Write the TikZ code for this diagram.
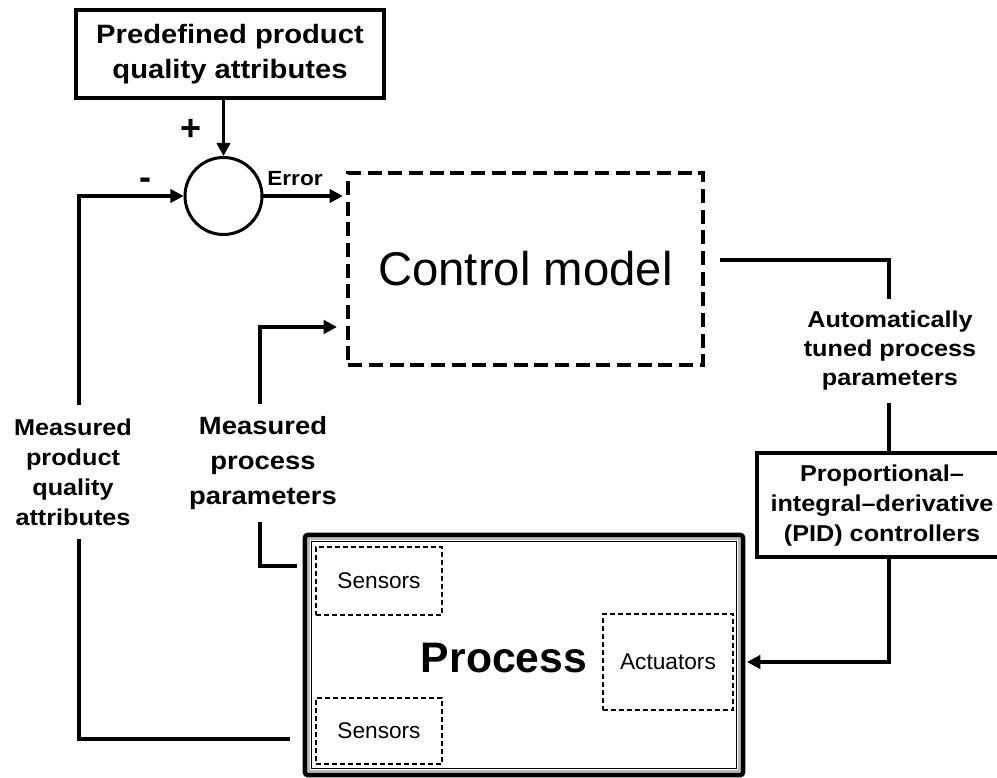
\documentclass[tikz,border=0pt]{standalone}
\usepackage{fontspec}
\setmainfont{Liberation Sans}
\newfontfamily\widefont[FakeStretch=1.1]{Liberation Sans}
\usetikzlibrary{arrows.meta}

\begin{document}
\begin{tikzpicture}[x=0.75pt,y=-0.75pt,
  conn/.style={line width=2.6pt},
  arr/.style={conn,-{Triangle[length=10pt,width=10pt]}},
  blk/.style={draw,line width=2.6pt,inner sep=0pt,outer sep=0pt},
  lbl/.style={align=center,inner xsep=2pt,fill=white,
    font=\widefont\bfseries\fontsize{17.2}{22.5}\selectfont},
  dashbox/.style={draw,line width=1.1pt,dash pattern=on 3.75pt off 2.25pt,
    outer sep=0pt,font=\fontsize{17}{20}\selectfont},
  sign/.style={inner sep=0pt,font=\bfseries\fontsize{27}{27}\selectfont}
]
\useasboundingbox (0,0) rectangle (997,778);
\clip (0,0) rectangle (997,778);

% reference input and summing junction
\node[blk,minimum width=231pt,minimum height=66pt,align=center,
  font=\widefont\bfseries\fontsize{19.9}{26.5}\selectfont]
  (pred) at (230,54) {Predefined product\\quality attributes};
\node[draw,circle,line width=2.25pt,minimum size=57.75pt,inner sep=0pt,outer sep=0pt]
  (sum) at (223.5,196) {};
\node[sign] (plus) at (191,130) {+};
\node[sign] (minus) at (145,184) {-};
\node[font=\widefont\bfseries\fontsize{15.4}{18}\selectfont] (err) at (295,179) {Error};

% controller
\node[draw,line width=2.6pt,dash pattern=on 10.5pt off 5pt,outer sep=0pt,
  minimum width=266pt,minimum height=144pt,font=\fontsize{35.5}{40}\selectfont]
  (cm) at (525.5,269) {Control model};

% PID block (runs past the right edge)
\node[blk,minimum width=198pt,minimum height=78pt] (pid) at (889,505) {};

% plant with its triple border
\node[draw,line width=3.4pt,rounded corners=2pt,outer sep=0pt,
  minimum width=328.5pt,minimum height=180pt] (proc) at (524,655) {};
\draw[line width=1.9pt,gray!55]
  ([shift={(4,4)}]proc.north west) rectangle ([shift={(-4,-4)}]proc.south east);
\draw[line width=1.3pt]
  ([shift={(6.5,6.5)}]proc.north west) rectangle ([shift={(-6.5,-6.5)}]proc.south east);
\node[font=\bfseries\fontsize{32}{36}\selectfont] (proctxt) at (504,658) {Process};
\node[dashbox,minimum width=94.5pt,minimum height=51pt] (sens1) at (379,581) {Sensors};
\node[dashbox,minimum width=94.5pt,minimum height=49.5pt] (sens2) at (379,731) {Sensors};
\node[dashbox,minimum width=97.5pt,minimum height=72pt] (act) at (668,662) {Actuators};

% loose ends of the signal lines
\coordinate (cmout) at (720,260);
\coordinate (pvA) at (297,566);
\coordinate (pvC) at (260,566);
\coordinate (pvB) at (337,327);
\coordinate (fbA) at (290,739);
\coordinate (fbB) at (79,739);

% signal lines
\draw[arr,shorten >=1pt] (pred.south -| sum) -- (sum.north);
\draw[arr,shorten >=4pt] (sum.east) -- (sum.east -| cm.west);
\draw[conn] (cmout) -| (pid.north);
\draw[arr,shorten >=3pt] (pid.south) |- (act -| proc.east);
\draw[arr] (pvA) -- (pvC) |- (pvB);
\draw[arr,shorten >=1pt] (fbA) -- (fbB) |- (sum.west);

% line labels (drawn over the lines they interrupt)
\node[lbl,inner ysep=9pt,font=\widefont\bfseries\fontsize{17.2}{21.75}\selectfont]
  (tuned) at (890,351) {Automatically\\tuned process\\parameters};
\node[lbl,fill=none] (pidtxt) at (882,506) {Proportional–\\integral–derivative\\(PID) controllers};
\node[lbl,inner ysep=9.75pt,font=\widefont\bfseries\fontsize{18.7}{26}\selectfont]
  (mpp) at (263,463) {Measured\\process\\parameters};
\node[lbl,inner ysep=10pt] (mpq) at (73,472) {Measured\\product\\quality\\attributes};
\end{tikzpicture}
\end{document}
